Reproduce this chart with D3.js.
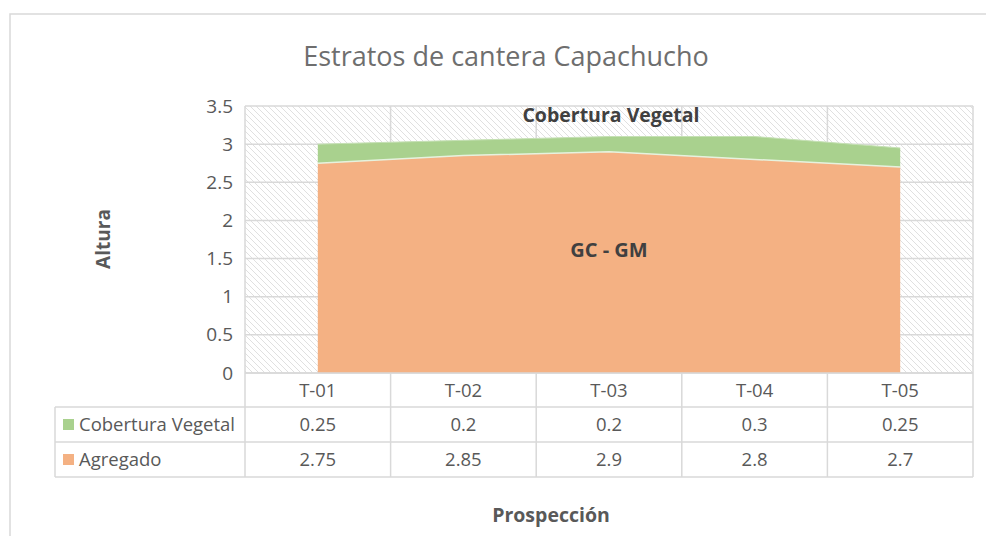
<!DOCTYPE html>
<html><head><meta charset="utf-8">
<script src="https://cdn.jsdelivr.net/npm/d3@7"></script>
<style>body{margin:0;background:#fff;} svg{display:block;font-family:"Open Sans",Calibri,sans-serif;}</style>
</head><body>
<svg id="c" width="986" height="536"></svg>
<script>
const categories = ["T-01","T-02","T-03","T-04","T-05"];
const seriesNames = ["Cobertura Vegetal","Agregado"];
const cobertura = [0.25,0.2,0.2,0.3,0.25];
const agregado = [2.75,2.85,2.9,2.8,2.7];
const yTicks = [0,0.5,1,1.5,2,2.5,3,3.5];
const colors = {"Cobertura Vegetal":"#A9D18E","Agregado":"#F4B183"};

const svg = d3.select("#c");
const L=245,R=973,T=106,B=373;
const x = d3.scaleBand().domain(categories).range([L,R]);
const bw = x.bandwidth();
const cx = c => x(c)+bw/2;
const y = d3.scaleLinear().domain([0,3.5]).range([B,T]);

// outer border
svg.append("rect").attr("x",10).attr("y",14).attr("width",1000).attr("height",600)
  .attr("fill","#fff").attr("stroke","#d9d9d9").attr("stroke-width",1.5);

// hatch pattern
const defs = svg.append("defs");
const pat = defs.append("pattern").attr("id","hatch").attr("patternUnits","userSpaceOnUse")
  .attr("width",6).attr("height",6);
pat.append("rect").attr("width",6).attr("height",6).attr("fill","#fff");
pat.append("path").attr("d","M-1,-1 L7,7 M-1,5 L1,7 M5,-1 L7,1").attr("stroke","#e0e0e0").attr("stroke-width",1);
svg.append("rect").attr("x",L).attr("y",T).attr("width",R-L).attr("height",B-T).attr("fill","url(#hatch)");

// gridlines
svg.append("g").selectAll("line").data(yTicks).join("line")
  .attr("x1",L).attr("x2",R).attr("y1",d=>y(d)).attr("y2",d=>y(d))
  .attr("stroke","#d9d9d9").attr("stroke-width",1.5);
const bounds = categories.map(c=>x(c)).concat([R]);
svg.append("g").selectAll("line").data(bounds).join("line")
  .attr("x1",d=>d).attr("x2",d=>d).attr("y1",T).attr("y2",B)
  .attr("stroke","#d9d9d9").attr("stroke-width",1.5);

// stacked areas
const rows = categories.map((c,i)=>({cat:c,"Agregado":agregado[i],"Cobertura Vegetal":cobertura[i]}));
const stack = d3.stack().keys(["Agregado","Cobertura Vegetal"])(rows);
const area = d3.area().x(d=>cx(d.data.cat)).y0(d=>y(d[0])).y1(d=>y(d[1]));
svg.append("g").selectAll("path").data(stack).join("path")
  .attr("d",area).attr("fill",d=>colors[d.key]);
const line = d3.line().x(d=>cx(d.data.cat)).y(d=>y(d[1]));
svg.append("path").datum(stack[0]).attr("d",line).attr("fill","none").attr("stroke","#e6f2de").attr("stroke-width",1.5);
svg.append("path").datum(stack[1]).attr("d",line).attr("fill","none").attr("stroke","#c5e0b4").attr("stroke-width",1);

// y axis
const yAxis = svg.append("g").attr("transform",`translate(${L},0)`)
  .call(d3.axisLeft(y).tickValues(yTicks).tickSize(0).tickPadding(12).tickFormat(d=>String(d)));
yAxis.select(".domain").remove();
yAxis.selectAll("text").attr("fill","#595959").style("font-size","19px").style("font-family","'Open Sans',sans-serif");

// data table
const tbl = svg.append("g");
const rTop=[373,407,442];
const gc="#d9d9d9";
const fs="18.5px";
tbl.append("line").attr("x1",L).attr("x2",R).attr("y1",B).attr("y2",B).attr("stroke",gc).attr("stroke-width",1.5);
[407,442,477].forEach(yy=>tbl.append("line").attr("x1",55).attr("x2",R).attr("y1",yy).attr("y2",yy).attr("stroke",gc).attr("stroke-width",1.5));
tbl.append("line").attr("x1",55).attr("x2",55).attr("y1",407).attr("y2",477).attr("stroke",gc).attr("stroke-width",1.5);
bounds.forEach(bx=>tbl.append("line").attr("x1",bx).attr("x2",bx).attr("y1",373).attr("y2",477).attr("stroke",gc).attr("stroke-width",1.5));
tbl.selectAll("text.h").data(categories).join("text").attr("class","h")
  .attr("x",d=>cx(d)).attr("y",397).attr("text-anchor","middle")
  .attr("fill","#595959").style("font-size",fs).text(d=>d);
const seriesVals = {"Cobertura Vegetal":cobertura,"Agregado":agregado};
seriesNames.forEach((s,si)=>{
  const yy = rTop[si+1];
  tbl.append("rect").attr("x",63).attr("y",yy+12).attr("width",11).attr("height",11).attr("fill",colors[s]);
  tbl.append("text").attr("x",79).attr("y",yy+24).attr("fill","#595959").style("font-size",fs).text(s);
  tbl.selectAll(null).data(categories).join("text")
    .attr("x",d=>cx(d)).attr("y",yy+24).attr("text-anchor","middle")
    .attr("fill","#595959").style("font-size",fs).text((d,i)=>String(seriesVals[s][i]));
});

// titles
svg.append("text").attr("x",506).attr("y",66).attr("text-anchor","middle")
  .attr("fill","#6e6e6e").style("font-size","27px").text("Estratos de cantera Capachucho");
svg.append("text").attr("transform","translate(110,239) rotate(-90)").attr("text-anchor","middle")
  .attr("fill","#595959").style("font-size","19px").style("font-weight","bold").text("Altura");
svg.append("text").attr("x",551).attr("y",522).attr("text-anchor","middle")
  .attr("fill","#595959").style("font-size","19.5px").style("font-weight","bold").text("Prospección");
svg.append("text").attr("x",611).attr("y",122).attr("text-anchor","middle")
  .attr("fill","#404040").style("font-size","19.5px").style("font-weight","bold").text("Cobertura Vegetal");
svg.append("text").attr("x",609).attr("y",257).attr("text-anchor","middle")
  .attr("fill","#404040").style("font-size","20px").style("font-weight","bold").text("GC - GM");
</script>
</body></html>
